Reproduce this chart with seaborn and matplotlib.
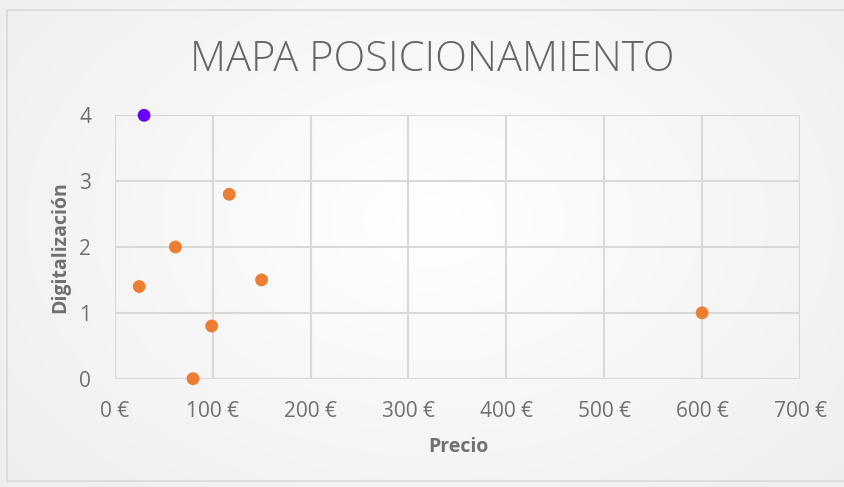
import numpy as np
import pandas as pd
import matplotlib
matplotlib.use("Agg")
import matplotlib.pyplot as plt
import seaborn as sns
from matplotlib.patches import Rectangle

# ---- data ----
precio = [30, 25, 62, 117, 150, 99, 80, 600]
digitalizacion = [4.0, 1.4, 2.0, 2.8, 1.5, 0.8, 0.0, 1.0]
grupo = ["propio", "comp", "comp", "comp", "comp", "comp", "comp", "comp"]
x_ticks = [0, 100, 200, 300, 400, 500, 600, 700]
y_ticks = [0, 1, 2, 3, 4]
x_tick_labels = ["0 €", "100 €", "200 €", "300 €", "400 €", "500 €", "600 €", "700 €"]
title = "MAPA POSICIONAMIENTO"
x_label = "Precio"
y_label = "Digitalización"

df = pd.DataFrame({"precio": precio, "digitalizacion": digitalizacion, "grupo": grupo})

sns.set_theme(style="white")
plt.rcParams["font.family"] = ["Open Sans", "DejaVu Sans"]

W, H = 845, 487
fig = plt.figure(figsize=(W / 100, H / 100), dpi=100)

# background gradient
bg = fig.add_axes([0, 0, 1, 1])
yy, xx = np.mgrid[0:H, 0:W]
r = np.sqrt(((xx - 430) / 600.0) ** 2 + ((yy - 220) / 420.0) ** 2)
val = 1.0 - 0.07 * np.clip(r, 0, 1)
img = np.dstack([val, val, val])
bg.imshow(img, extent=[0, W, H, 0], aspect="auto", interpolation="bilinear")
bg.set_xlim(0, W)
bg.set_ylim(H, 0)
bg.axis("off")
bg.add_patch(Rectangle((7.5, 9.5), W - 7, H - 16, fill=False, edgecolor="#d9d9d9", lw=1.2))

left, right, top, bottom = 114.7, 800.0, 115.3, 378.7
ax = fig.add_axes([left / W, 1 - bottom / H, (right - left) / W, (bottom - top) / H])
ax.set_facecolor("none")

palette = {"propio": "#6a00ff", "comp": "#ed7d31"}
sns.scatterplot(data=df, x="precio", y="digitalizacion", hue="grupo", palette=palette,
                s=85, edgecolor="none", legend=False, ax=ax, clip_on=False, zorder=3)

ax.set_xlim(0, 700)
ax.set_ylim(0, 4)
ax.set_xticks(x_ticks)
ax.set_xticklabels(x_tick_labels)
ax.set_yticks(y_ticks)
ax.grid(True, color="#d9d9d9", lw=1.5)
ax.set_axisbelow(True)
for s in ax.spines.values():
    s.set_visible(False)
tick_color = "#707070"
ax.tick_params(axis="x", length=0, pad=16, labelsize=15, colors=tick_color)
ax.tick_params(axis="y", length=0, pad=17, labelsize=15, colors=tick_color)

ax.set_xlabel(x_label, fontsize=14, fontweight="bold", color=tick_color, va="center")
ax.set_ylabel(y_label, fontsize=14, fontweight="bold", color=tick_color, va="center")
ax.xaxis.set_label_coords((458 - left) / (right - left), -(447 - bottom) / (bottom - top))
ax.yaxis.set_label_coords((60 - left) / (right - left), 0.5)

fig.text(432 / W, 1 - 60 / H, title, ha="center", va="center", fontsize=30,
         fontweight="light", color="#666666")

fig.savefig("out.png", dpi=100)
